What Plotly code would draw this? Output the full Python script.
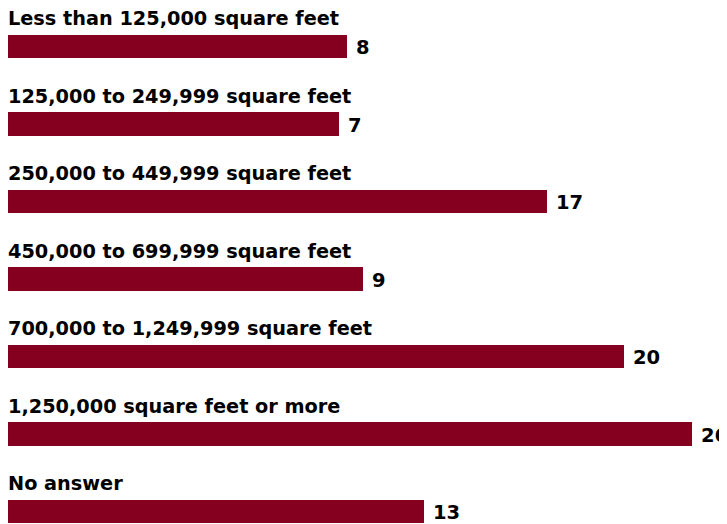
import plotly.graph_objs as go

# Survey answers: facility size and number of respondents
categories = [
    'Less than 125,000 square feet',
    '125,000 to 249,999 square feet',
    '250,000 to 449,999 square feet',
    '450,000 to 699,999 square feet',
    '700,000 to 1,249,999 square feet',
    '1,250,000 square feet or more',
    'No answer',
]
counts = [8, 7, 17, 9, 20, 26, 13]

# Bar lengths as drawn in the original graphic (not proportional to counts),
# read off the picture in count units where the longest bar = 26
drawn_lengths = [12.9, 12.6, 20.5, 13.5, 23.4, 26.0, 15.8]

BAR_COLOR = '#85001F'
FONT = 'DejaVu Sans'

positions = list(range(len(categories)))

fig = go.Figure()

fig.add_trace(go.Bar(
    x=drawn_lengths,
    y=positions,
    orientation='h',
    width=0.3,
    marker=dict(color=BAR_COLOR, line=dict(width=0)),
    hoverinfo='skip',
))

# Category labels above each bar
for pos, label in zip(positions, categories):
    fig.add_annotation(
        x=0, y=pos, xref='x', yref='y',
        text=label,
        showarrow=False,
        xanchor='left', yanchor='middle',
        xshift=-2, yshift=28,
        font=dict(family=FONT, size=19.3, color='#000000', weight='bold'),
    )

# Value labels to the right of each bar
for pos, length, value in zip(positions, drawn_lengths, counts):
    fig.add_annotation(
        x=length, y=pos, xref='x', yref='y',
        text=str(value),
        showarrow=False,
        xanchor='left', yanchor='middle',
        xshift=7, yshift=-1,
        font=dict(family=FONT, size=19.5, color='#000000', weight='bold'),
    )

# the page adds an 8px body margin, so the figure is sized to the rest of the window
fig.update_xaxes(visible=False, range=[0, 27.33])
fig.update_yaxes(visible=False, range=[6.161, -0.497])

fig.update_layout(
    width=719,
    height=516,
    plot_bgcolor='white',
    paper_bgcolor='white',
    showlegend=False,
    margin=dict(l=0, r=0, t=0, b=0),
    bargap=0,
)

fig.write_html("out.html")
